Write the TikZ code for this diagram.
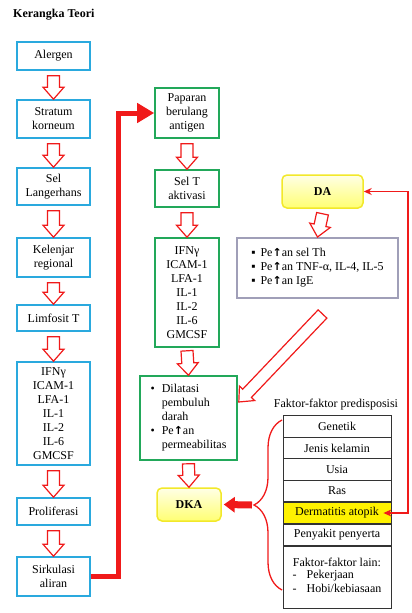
\documentclass[tikz,border=0pt]{standalone}
\usepackage{fontspec}
\setmainfont{Liberation Serif}
\newfontfamily\panahfont{DejaVu Sans}
\newcommand\naik{{\panahfont\bfseries\fontsize{11}{14}\selectfont ↑}}
\usetikzlibrary{calc,arrows.meta,shadows,decorations.pathreplacing}
\definecolor{biru}{HTML}{2AA9DE}
\definecolor{hijau}{HTML}{22A85A}
\definecolor{ungu}{HTML}{A09FB8}
\definecolor{kuning}{HTML}{F2E82A}
\definecolor{merah}{HTML}{F01A1A}
\begin{document}
\begin{tikzpicture}[
x=1pt, y=-1pt,
font=\fontsize{12}{14}\selectfont,
every node/.style={
align=center,
inner sep=2pt
},
kotak/.style={
draw,
line width=1.6pt,
fill=white,
drop shadow={opacity=0.25, shadow xshift=1.2pt, shadow yshift=-1.2pt}
},
kiri/.style={kotak, draw=biru, minimum width=73pt},
tengah/.style={kotak, draw=hijau, minimum width=64pt},
bulat/.style={
draw=kuning,
line width=1.5pt,
rounded corners=5pt,
top color=yellow!10,
bottom color=yellow!55,
font=\fontsize{12}{14}\selectfont\bfseries
},
sel/.style={
draw=black!80,
line width=0.8pt,
fill=white,
minimum width=108pt,
minimum height=21.5pt,
inner sep=0pt
},
panah/.style={
draw=merah, fill=white, line width=1.2pt,
to path={
let \p1=($(\tikztotarget)-(\tikztostart)$),
\n2={atan2(\y1,\x1)}, \n3={\n2+90} in
($(\tikztostart)+(\n3:6pt)$)
-- ($(\tikztotarget)+(\n2:-12pt)+(\n3:6pt)$)
-- ($(\tikztotarget)+(\n2:-12pt)+(\n3:10.5pt)$)
-- (\tikztotarget)
-- ($(\tikztotarget)+(\n2:-12pt)+(\n3:-10.5pt)$)
-- ($(\tikztotarget)+(\n2:-12pt)+(\n3:-6pt)$)
-- ($(\tikztostart)+(\n3:-6pt)$)
-- cycle
}}
]
\useasboundingbox (0,0) rectangle (412,613);

\node[anchor=west, font=\fontsize{12}{14}\selectfont\bfseries] (judul) at (11,15)
{Kerangka Teori};

% kolom kiri
\node[kiri, minimum height=28pt] (alergen) at (53.5,56)
{Alergen};

\node[kiri, minimum height=38pt] (stratum) at (53.5,119)
{Stratum\\korneum};

\node[kiri, minimum height=37pt] (langerhans) at (53.5,186.5)
{Sel\\Langerhans};

\node[kiri, minimum height=39pt] (kelenjar) at (53.5,257.5)
{Kelenjar\\regional};

\node[kiri, minimum height=26pt] (limfosit) at (53.5,318)
{Limfosit T};

\node[kiri, minimum height=103pt] (sitokin) at (53.5,413.5)
{IFNγ\\ICAM-1\\LFA-1\\IL-1\\IL-2\\IL-6\\GMCSF};

\node[kiri, minimum height=27pt] (proliferasi) at (53.5,511.5)
{Proliferasi};

\node[kiri, minimum height=39pt] (sirkulasi) at (53.5,576.5)
{Sirkulasi\\aliran};

% kolom tengah
\node[tengah, minimum height=50pt] (paparan) at (187,113)
{Paparan\\berulang\\antigen};

\node[tengah, minimum height=37pt] (selt) at (187,188.5)
{Sel T\\aktivasi};

\node[tengah, minimum height=109pt] (sitokinb) at (187,292.5)
{IFNγ\\ICAM-1\\LFA-1\\IL-1\\IL-2\\IL-6\\GMCSF};

\node[tengah, minimum width=97pt, minimum height=84pt] (dilatasi) at (188.5,418)
{\begin{tabular}{@{}l@{\hspace{7pt}}l@{}}
•&Dilatasi\\&pembuluh\\&darah\\•&Pe\naik an\\&permeabilitas
\end{tabular}};

\node[bulat, minimum width=64pt, minimum height=33pt] (dka) at (189,504.5)
{DKA};

% kolom kanan
\node[bulat, minimum width=81pt, minimum height=33pt] (da) at (322.5,191.5)
{DA};

\node[kotak, draw=ungu, line width=2pt, minimum width=161pt, minimum height=60pt] (imun) at (317.5,268)
{\begin{tabular}{@{}l@{\hspace{5pt}}l@{}}
▪&Pe\naik an sel Th\\▪&Pe\naik an TNF-α, IL-4, IL-5\\▪&Pe\naik an IgE
\end{tabular}};

\node (predisposisi) at (336,405)
{Faktor-faktor predisposisi};

\node[sel] (genetik) at (337,426.5) {Genetik};
\node[sel] (kelamin) at (337,448) {Jenis kelamin};
\node[sel] (usia) at (337,469.5) {Usia};
\node[sel] (ras) at (337,491) {Ras};
\node[sel, fill=yellow] (atopik) at (337,513) {Dermatitis atopik};
\node[sel] (penyerta) at (337,535) {Penyakit penyerta};
\node[sel, minimum height=62pt] (lain) at (337,577)
{Faktor-faktor lain:\\[1pt]
\begin{tabular}{@{}l@{\hspace{10pt}}l@{}}
-&Pekerjaan\\-&Hobi/kebiasaan
\end{tabular}};

\coordinate (ujung) at (254,505);

% panah
\draw[panah] ([yshift=-5pt]alergen.south) to (stratum.north);
\draw[panah] ([yshift=-5pt]stratum.south) to (langerhans.north);
\draw[panah] ([yshift=-5pt]langerhans.south) to (kelenjar.north);
\draw[panah] ([yshift=-5pt]kelenjar.south) to (limfosit.north);
\draw[panah] ([yshift=-5pt]limfosit.south) to (sitokin.north);
\draw[panah] ([yshift=-5pt]sitokin.south) to (proliferasi.north);
\draw[panah] ([yshift=-5pt]proliferasi.south) to (sirkulasi.north);

\draw[panah] ([yshift=-5pt]paparan.south) to (selt.north);
\draw[panah] ([yshift=-5pt]selt.south) to (sitokinb.north);
\draw[panah] ([yshift=-3pt]sitokinb.south) to (dilatasi.north);
\draw[panah] ([yshift=-3pt]dilatasi.south) to (dka.north);

\draw[panah] ([yshift=-5pt]da.south) to (imun.north);
\draw[panah] ([shift={(5,15)}]imun.south) to ([shift={(1,-16)}]dilatasi.east);

\draw[merah, line width=5pt, -{Triangle[length=17pt,width=19pt]}]
(sirkulasi.east) -- ++(28,0) |- (paparan.west);

\draw[merah, line width=1.3pt, decorate, decoration={brace, amplitude=28pt}]
(282,590) -- (282,420);

\draw[merah, line width=7pt, -{Triangle[length=11pt,width=15pt]}]
([xshift=-2pt]ujung) -- ([xshift=2pt]dka.east);

\draw[merah, line width=1.3pt, {Stealth[length=8pt,width=7pt]}-{Stealth[length=8pt,width=7pt]}]
([xshift=-8pt]atopik.east) -- (408,513) |- (da.east);

\end{tikzpicture}
\end{document}
